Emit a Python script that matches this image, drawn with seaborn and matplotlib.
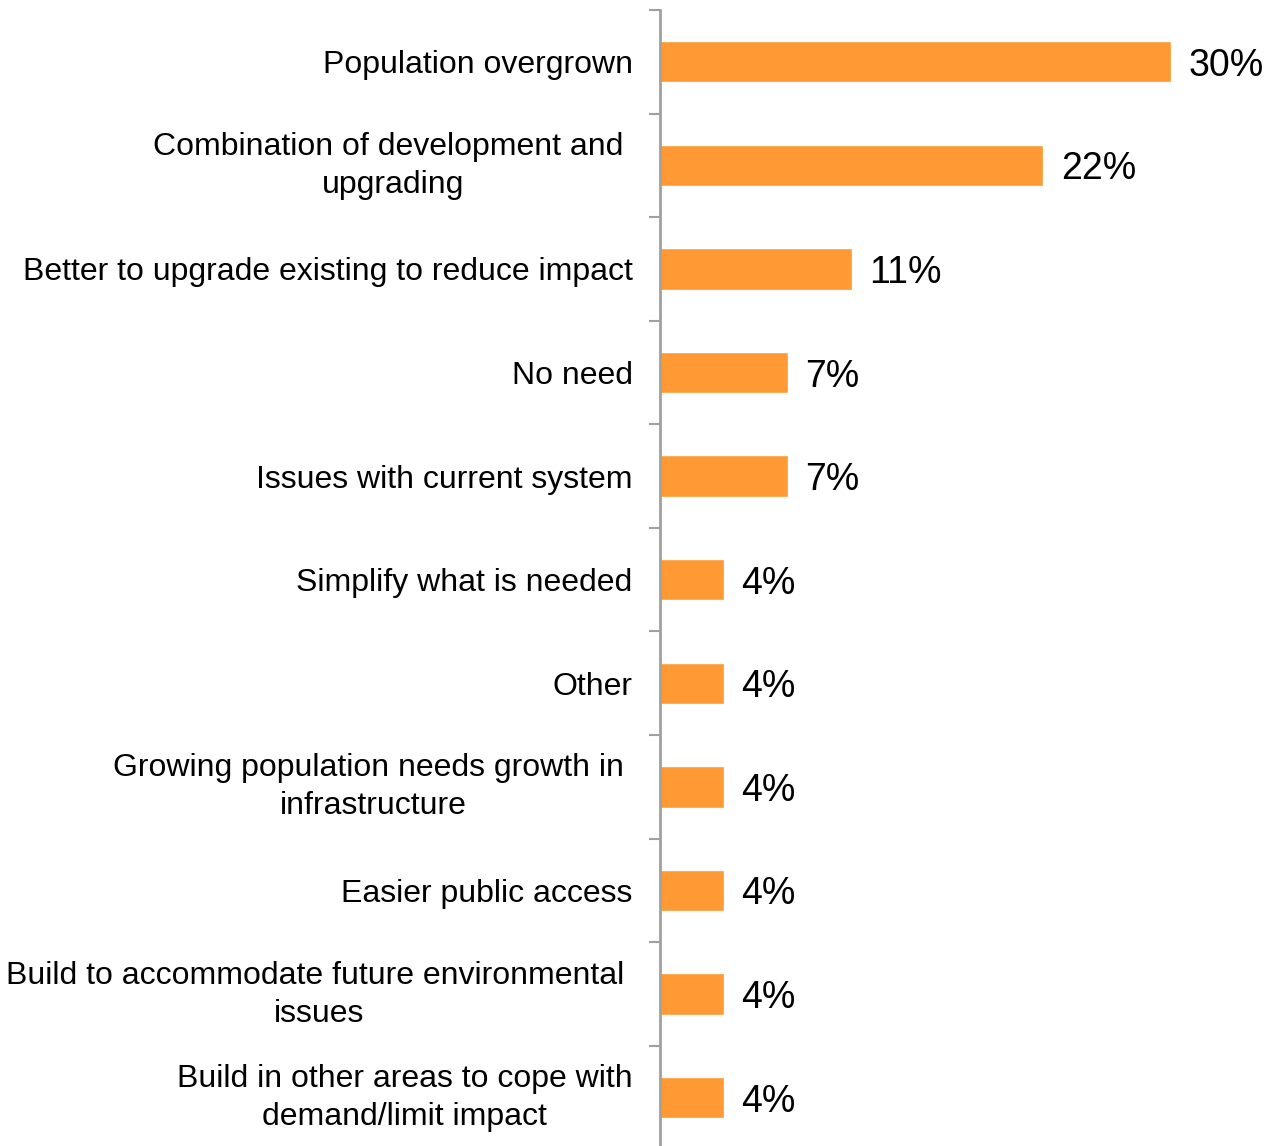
import matplotlib.pyplot as plt
import matplotlib.transforms as mtransforms
import seaborn as sns
import numpy as np
import pandas as pd

# Figure settings
FIG_DPI = 100
LABEL_FONTSIZE = 23
VALUE_FONTSIZE = 27
BAR_COLOR = "#FF9933"
AXIS_COLOR = "#A0A0A0"

categories = [
    "Population overgrown",
    "Combination of development and \nupgrading",
    "Better to upgrade existing to reduce impact",
    "No need",
    "Issues with current system",
    "Simplify what is needed",
    "Other",
    "Growing population needs growth in \ninfrastructure",
    "Easier public access",
    "Build to accommodate future environmental \nissues",
    "Build in other areas to cope with\ndemand/limit impact",
]
values = [29.6, 22.2, 11.1, 7.4, 7.4, 3.7, 3.7, 3.7, 3.7, 3.7, 3.7]
value_labels = ["30%", "22%", "11%", "7%", "7%", "4%", "4%", "4%", "4%", "4%", "4%"]

df = pd.DataFrame({"category": categories, "value": values})

sns.set_style("white")
plt.rcParams["font.family"] = ["Liberation Sans", "DejaVu Sans"]

fig = plt.figure(figsize=(12.8, 11.46), dpi=FIG_DPI)
ax = fig.add_axes([0.516, -0.003, 0.4717, 0.9943])

sns.barplot(data=df, x="value", y="category", orient="h", color=BAR_COLOR,
            saturation=1, width=0.4, ax=ax)

ax.set_xlim(0, 35)
n = len(categories)
ax.set_ylim(n - 0.5, -0.5)

# Tick marks between categories, labels at category centers
ax.set_yticks(np.arange(n) - 0.5, minor=True)
ax.tick_params(axis="y", which="minor", left=True, length=8, width=1.5,
               color=AXIS_COLOR)
ax.tick_params(axis="y", which="major", length=0, pad=20,
               labelsize=LABEL_FONTSIZE, labelcolor="black")

# nudge two-line labels up a little so they sit centred on the bar
nudge = mtransforms.ScaledTranslation(0, 5 / 72, fig.dpi_scale_trans)
for lbl in ax.get_yticklabels():
    lbl.set_multialignment("center")
    lbl.set_linespacing(1.35)
    if "\n" in lbl.get_text():
        lbl.set_transform(lbl.get_transform() + nudge)

ax.set_xticks([])
ax.set_xlabel("")
ax.set_ylabel("")

for side in ["top", "right", "bottom"]:
    ax.spines[side].set_visible(False)
ax.spines["left"].set_color(AXIS_COLOR)
ax.spines["left"].set_linewidth(2)

# Value labels
for i, (v, txt) in enumerate(zip(values, value_labels)):
    ax.text(v + 1.0, i, txt, va="center_baseline", ha="left",
            fontsize=VALUE_FONTSIZE, color="black")

plt.savefig("out.png", dpi=FIG_DPI)
